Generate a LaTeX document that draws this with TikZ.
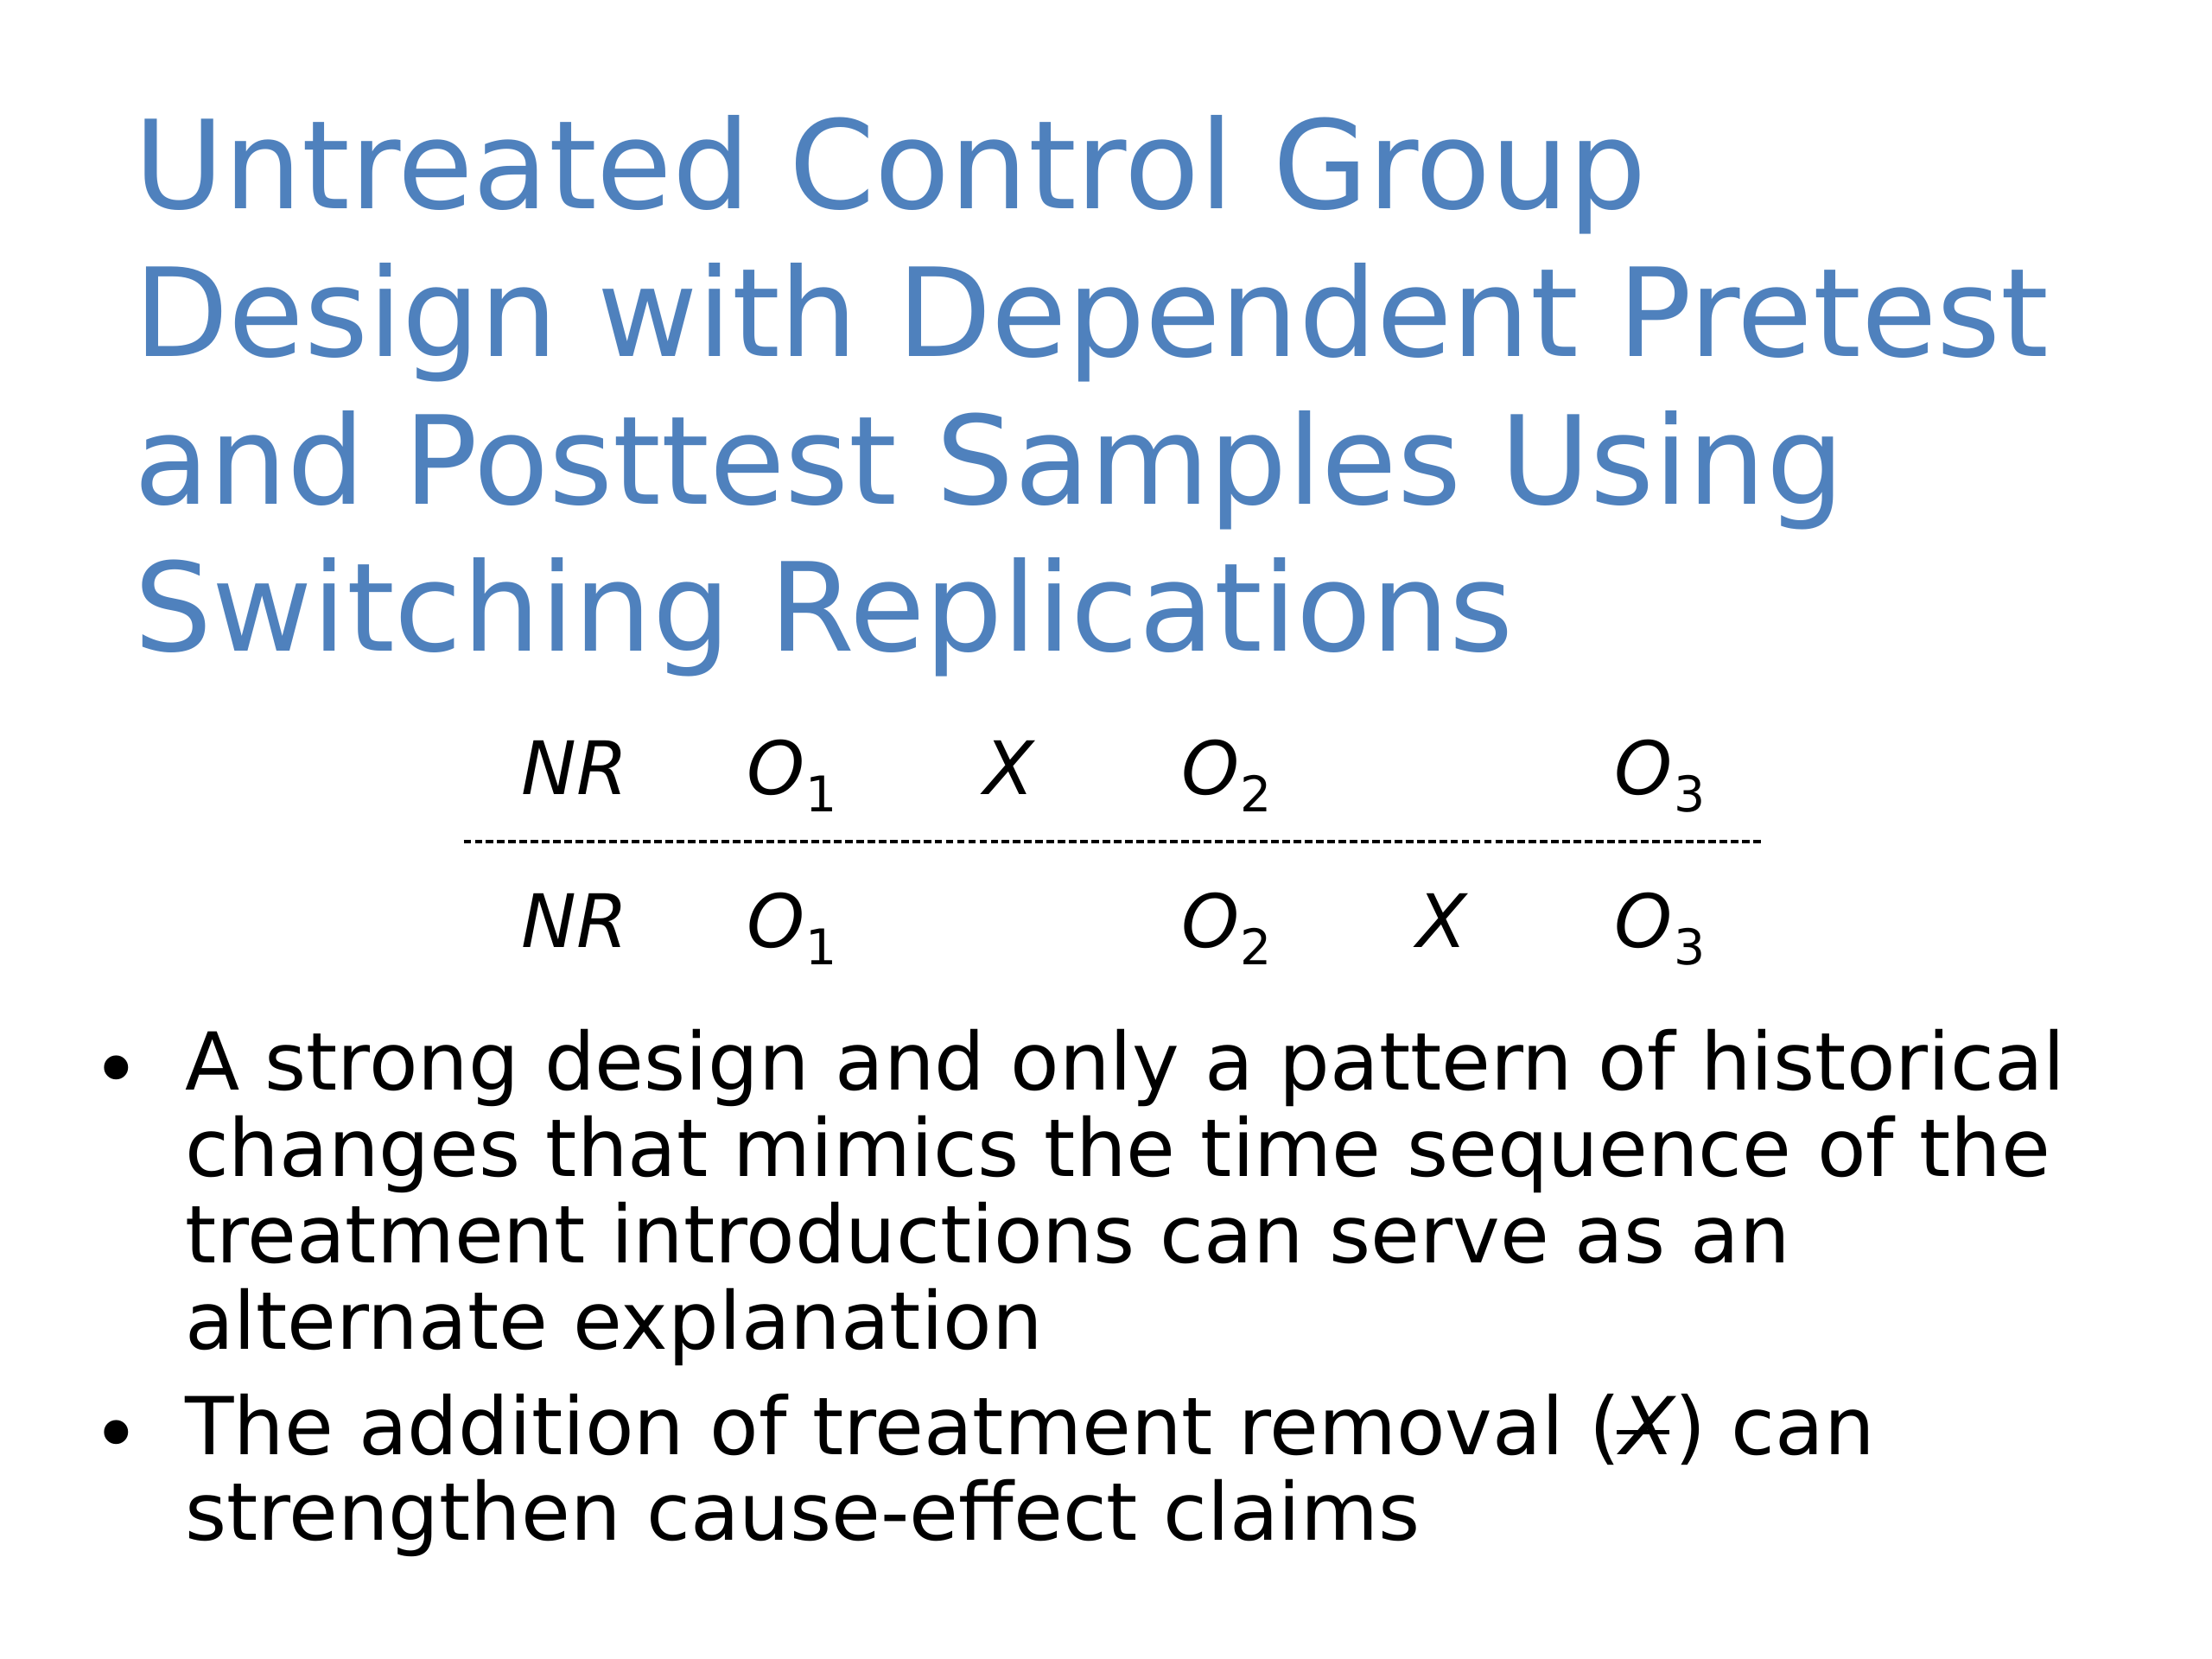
\documentclass[tikz,border=0pt]{standalone}
\usepackage{fontspec}
\setmainfont{DejaVu Sans}
\definecolor{titleblue}{RGB}{79,129,189}
\newcommand\sbs[1]{\kern0.3pt\raisebox{-5.6pt}{\fontsize{16}{16}\selectfont\upshape #1}}
\newcommand\xbar{{\itshape\rlap{\kern-0.04em\rule[0.255em]{0.66em}{0.045em}}X}}
\tikzset{
  titleline/.style={anchor=base west, inner sep=0pt, text=titleblue, font=\fontsize{40}{48}\selectfont},
  cell/.style={anchor=base west, inner sep=0pt, font=\fontsize{24}{28}\selectfont\itshape},
  bodyline/.style={anchor=base west, inner sep=0pt, font=\fontsize{26}{28}\selectfont},
  bulletmark/.style={anchor=base, inner sep=0pt, font=\fontsize{27}{27}\selectfont},
  sepline/.style={line width=1pt, dash pattern=on 2.5pt off 1.15pt},
}
\begin{document}
\begin{tikzpicture}[x=1pt,y=-1pt]
\useasboundingbox[fill=white] (0,0) rectangle (720,540);
% title
\node[titleline] (t1) at (43.4,68.0) {Untreated Control Group};
\node[titleline] (t2) at (43.4,116.1) {Design with Dependent Pretest};
\node[titleline] (t3) at (43.4,164.1) {and Posttest Samples Using};
\node[titleline] (t4) at (43.4,212.0) {Switching Replications};
% design table
\node[cell] (nr1) at (169.6,258.6) {NR};
\node[cell] (o11) at (243.0,258.6) {O\sbs{1}};
\node[cell] (x1)  at (320.0,258.6) {X};
\node[cell] (o21) at (384.3,258.6) {O\sbs{2}};
\node[cell] (o31) at (525.4,258.6) {O\sbs{3}};
\coordinate (sepL) at (150.9,273.9);
\coordinate (sepR) at (574.2,273.9);
\draw[sepline] (sepL) -- (sepR);
\node[cell] (nr2) at (169.6,308.4) {NR};
\node[cell] (o12) at (243.0,308.4) {O\sbs{1}};
\node[cell] (o22) at (384.3,308.4) {O\sbs{2}};
\node[cell] (x2)  at (461.0,308.4) {X};
\node[cell] (o32) at (525.4,308.4) {O\sbs{3}};
% bullets
\node[bulletmark] (b1) at (37.9,357.6) {•};
\node[bodyline] (l1) at (60.0,354.8) {A strong design and only a pattern of historical};
\node[bodyline] (l2) at (60.0,382.9) {changes that mimics the time sequence of the};
\node[bodyline] (l3) at (60.0,411.1) {treatment introductions can serve as an};
\node[bodyline] (l4) at (60.0,439.2) {alternate explanation};
\node[bulletmark] (b2) at (37.9,476.2) {•};
\node[bodyline] (l5) at (60.0,473.4) {The addition of treatment removal (\xbar) can};
\node[bodyline] (l6) at (60.0,501.3) {strengthen cause-effect claims};
\end{tikzpicture}
\end{document}
